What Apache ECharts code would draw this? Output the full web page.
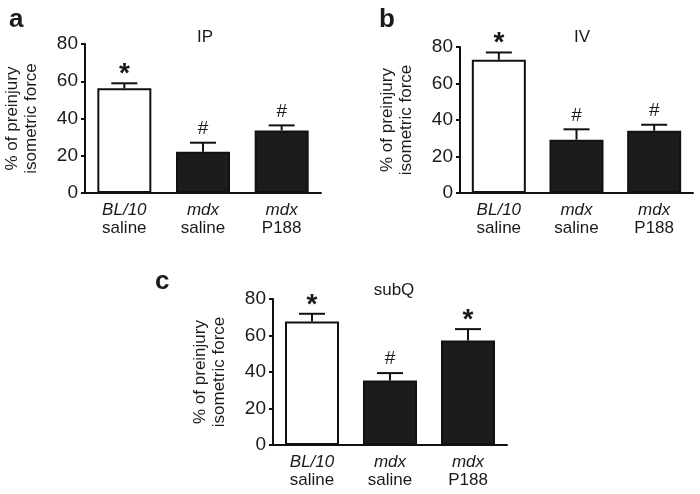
<!DOCTYPE html>
<html>
<head>
<meta charset="utf-8">
<script src="https://cdn.jsdelivr.net/npm/echarts@6/dist/echarts.min.js"></script>
<style>
html,body{margin:0;padding:0;background:#fff;}
#chart{width:700px;height:494px;}
</style>
</head>
<body>
<div id="chart"></div>
<script>
// ---- data ----
const catTop = ['BL/10', 'mdx', 'mdx'];
const catBottom = ['saline', 'saline', 'P188'];
const yTicks = [0, 20, 40, 60, 80];

const ipMeans = [56.2, 22.2, 33.6];
const ipUpper = [58.9, 27.0, 36.3];
const ipMarks = ['*', '#', '#'];

const ivMeans = [73.0, 29.2, 34.1];
const ivUpper = [77.0, 34.9, 37.4];
const ivMarks = ['*', '#', '#'];

const sqMeans = [67.7, 35.3, 57.3];
const sqUpper = [71.9, 39.4, 63.5];
const sqMarks = ['*', '#', '*'];

const panelTitles = ['IP', 'IV', 'subQ'];
const panelLetters = ['a', 'b', 'c'];
const yName = '% of preinjury\nisometric force';

// ---- layout / style ----
const FONT = '"Liberation Sans", Arial, Helvetica, sans-serif';
const TXT = '#1a1a1a';
const grids = [
  {left: 85, top: 44, width: 236, height: 149},
  {left: 460, top: 47, width: 233, height: 146},
  {left: 273, top: 299, width: 234, height: 146}
];
const panels = [
  {means: ipMeans, upper: ipUpper, marks: ipMarks},
  {means: ivMeans, upper: ivUpper, marks: ivMarks},
  {means: sqMeans, upper: sqUpper, marks: sqMarks}
];

const chart = echarts.init(document.getElementById('chart'), null, {renderer: 'canvas'});

const xAxes = [], yAxes = [], series = [];
panels.forEach((p, gi) => {
  xAxes.push({
    type: 'category', gridIndex: gi,
    data: catTop.map((t, i) => t + '|' + catBottom[i]),
    axisLine: {lineStyle: {color: '#111', width: 2}},
    axisTick: {show: false},
    axisLabel: {
      margin: 8, interval: 0,
      formatter: v => { const s = v.split('|'); return '{i|' + s[0] + '}\n{n|' + s[1] + '}'; },
      rich: {
        i: {fontFamily: FONT, fontSize: 17, fontStyle: 'italic', color: TXT, lineHeight: 18},
        n: {fontFamily: FONT, fontSize: 17, color: TXT, lineHeight: 18}
      }
    }
  });
  yAxes.push({
    type: 'value', gridIndex: gi, min: 0, max: 80, interval: 20,
    splitLine: {show: false},
    axisLine: {show: true, lineStyle: {color: '#111', width: 2}},
    axisTick: {show: true, length: 4, lineStyle: {color: '#111', width: 2}},
    axisLabel: {margin: 7, fontFamily: FONT, fontSize: 19, color: TXT,
      formatter: v => yTicks.indexOf(v) >= 0 ? String(v) : ''},
    name: yName, nameLocation: 'middle', nameGap: 44, nameRotate: 90,
    nameTextStyle: {fontFamily: FONT, fontSize: 17, color: TXT, lineHeight: 19}
  });
  series.push({
    type: 'bar', xAxisIndex: gi, yAxisIndex: gi, barWidth: 54, z: 2,
    data: p.means.map((v, i) => ({
      value: v,
      itemStyle: {color: i === 0 ? '#ffffff' : '#1c1c1c', borderColor: '#111', borderWidth: 2}
    }))
  });
  const marks = p.marks;
  series.push({
    type: 'custom', xAxisIndex: gi, yAxisIndex: gi, z: 5,
    data: p.means.map((v, i) => [i, v, p.upper[i]]),
    renderItem: function (params, api) {
      const base = api.coord([api.value(0), api.value(1)]);
      const top = api.coord([api.value(0), api.value(2)]);
      const m = marks[params.dataIndex];
      const isStar = m === '*';
      return {
        type: 'group',
        children: [
          {type: 'line', shape: {x1: top[0], y1: base[1], x2: top[0], y2: top[1]}, style: {stroke: '#111', lineWidth: 2}},
          {type: 'line', shape: {x1: top[0] - 13, y1: top[1], x2: top[0] + 13, y2: top[1]}, style: {stroke: '#111', lineWidth: 2}},
          {type: 'text', x: top[0], y: top[1] - (isStar ? 9 : 14),
            style: {text: m, fontFamily: FONT, fontSize: isStar ? 28 : 19, fontWeight: isStar ? 'bold' : 'normal',
              fill: TXT, align: 'center', verticalAlign: 'middle'}}
        ]
      };
    }
  });
});

chart.setOption({
  animation: false,
  backgroundColor: '#ffffff',
  title: [
    {text: panelTitles[0], left: 200, top: 24, textAlign: 'center', textStyle: {fontFamily: FONT, fontSize: 17, fontWeight: 'normal', color: TXT}},
    {text: panelTitles[1], left: 577, top: 24, textAlign: 'center', textStyle: {fontFamily: FONT, fontSize: 17, fontWeight: 'normal', color: TXT}},
    {text: panelTitles[2], left: 389, top: 277, textAlign: 'center', textStyle: {fontFamily: FONT, fontSize: 17, fontWeight: 'normal', color: TXT}},
    {text: panelLetters[0], left: 4, top: 2, textStyle: {fontFamily: FONT, fontSize: 26, fontWeight: 'bold', color: TXT}},
    {text: panelLetters[1], left: 374, top: 2, textStyle: {fontFamily: FONT, fontSize: 26, fontWeight: 'bold', color: TXT}},
    {text: panelLetters[2], left: 150, top: 264, textStyle: {fontFamily: FONT, fontSize: 26, fontWeight: 'bold', color: TXT}}
  ],
  grid: grids,
  xAxis: xAxes,
  yAxis: yAxes,
  series: series
});
</script>
</body>
</html>
